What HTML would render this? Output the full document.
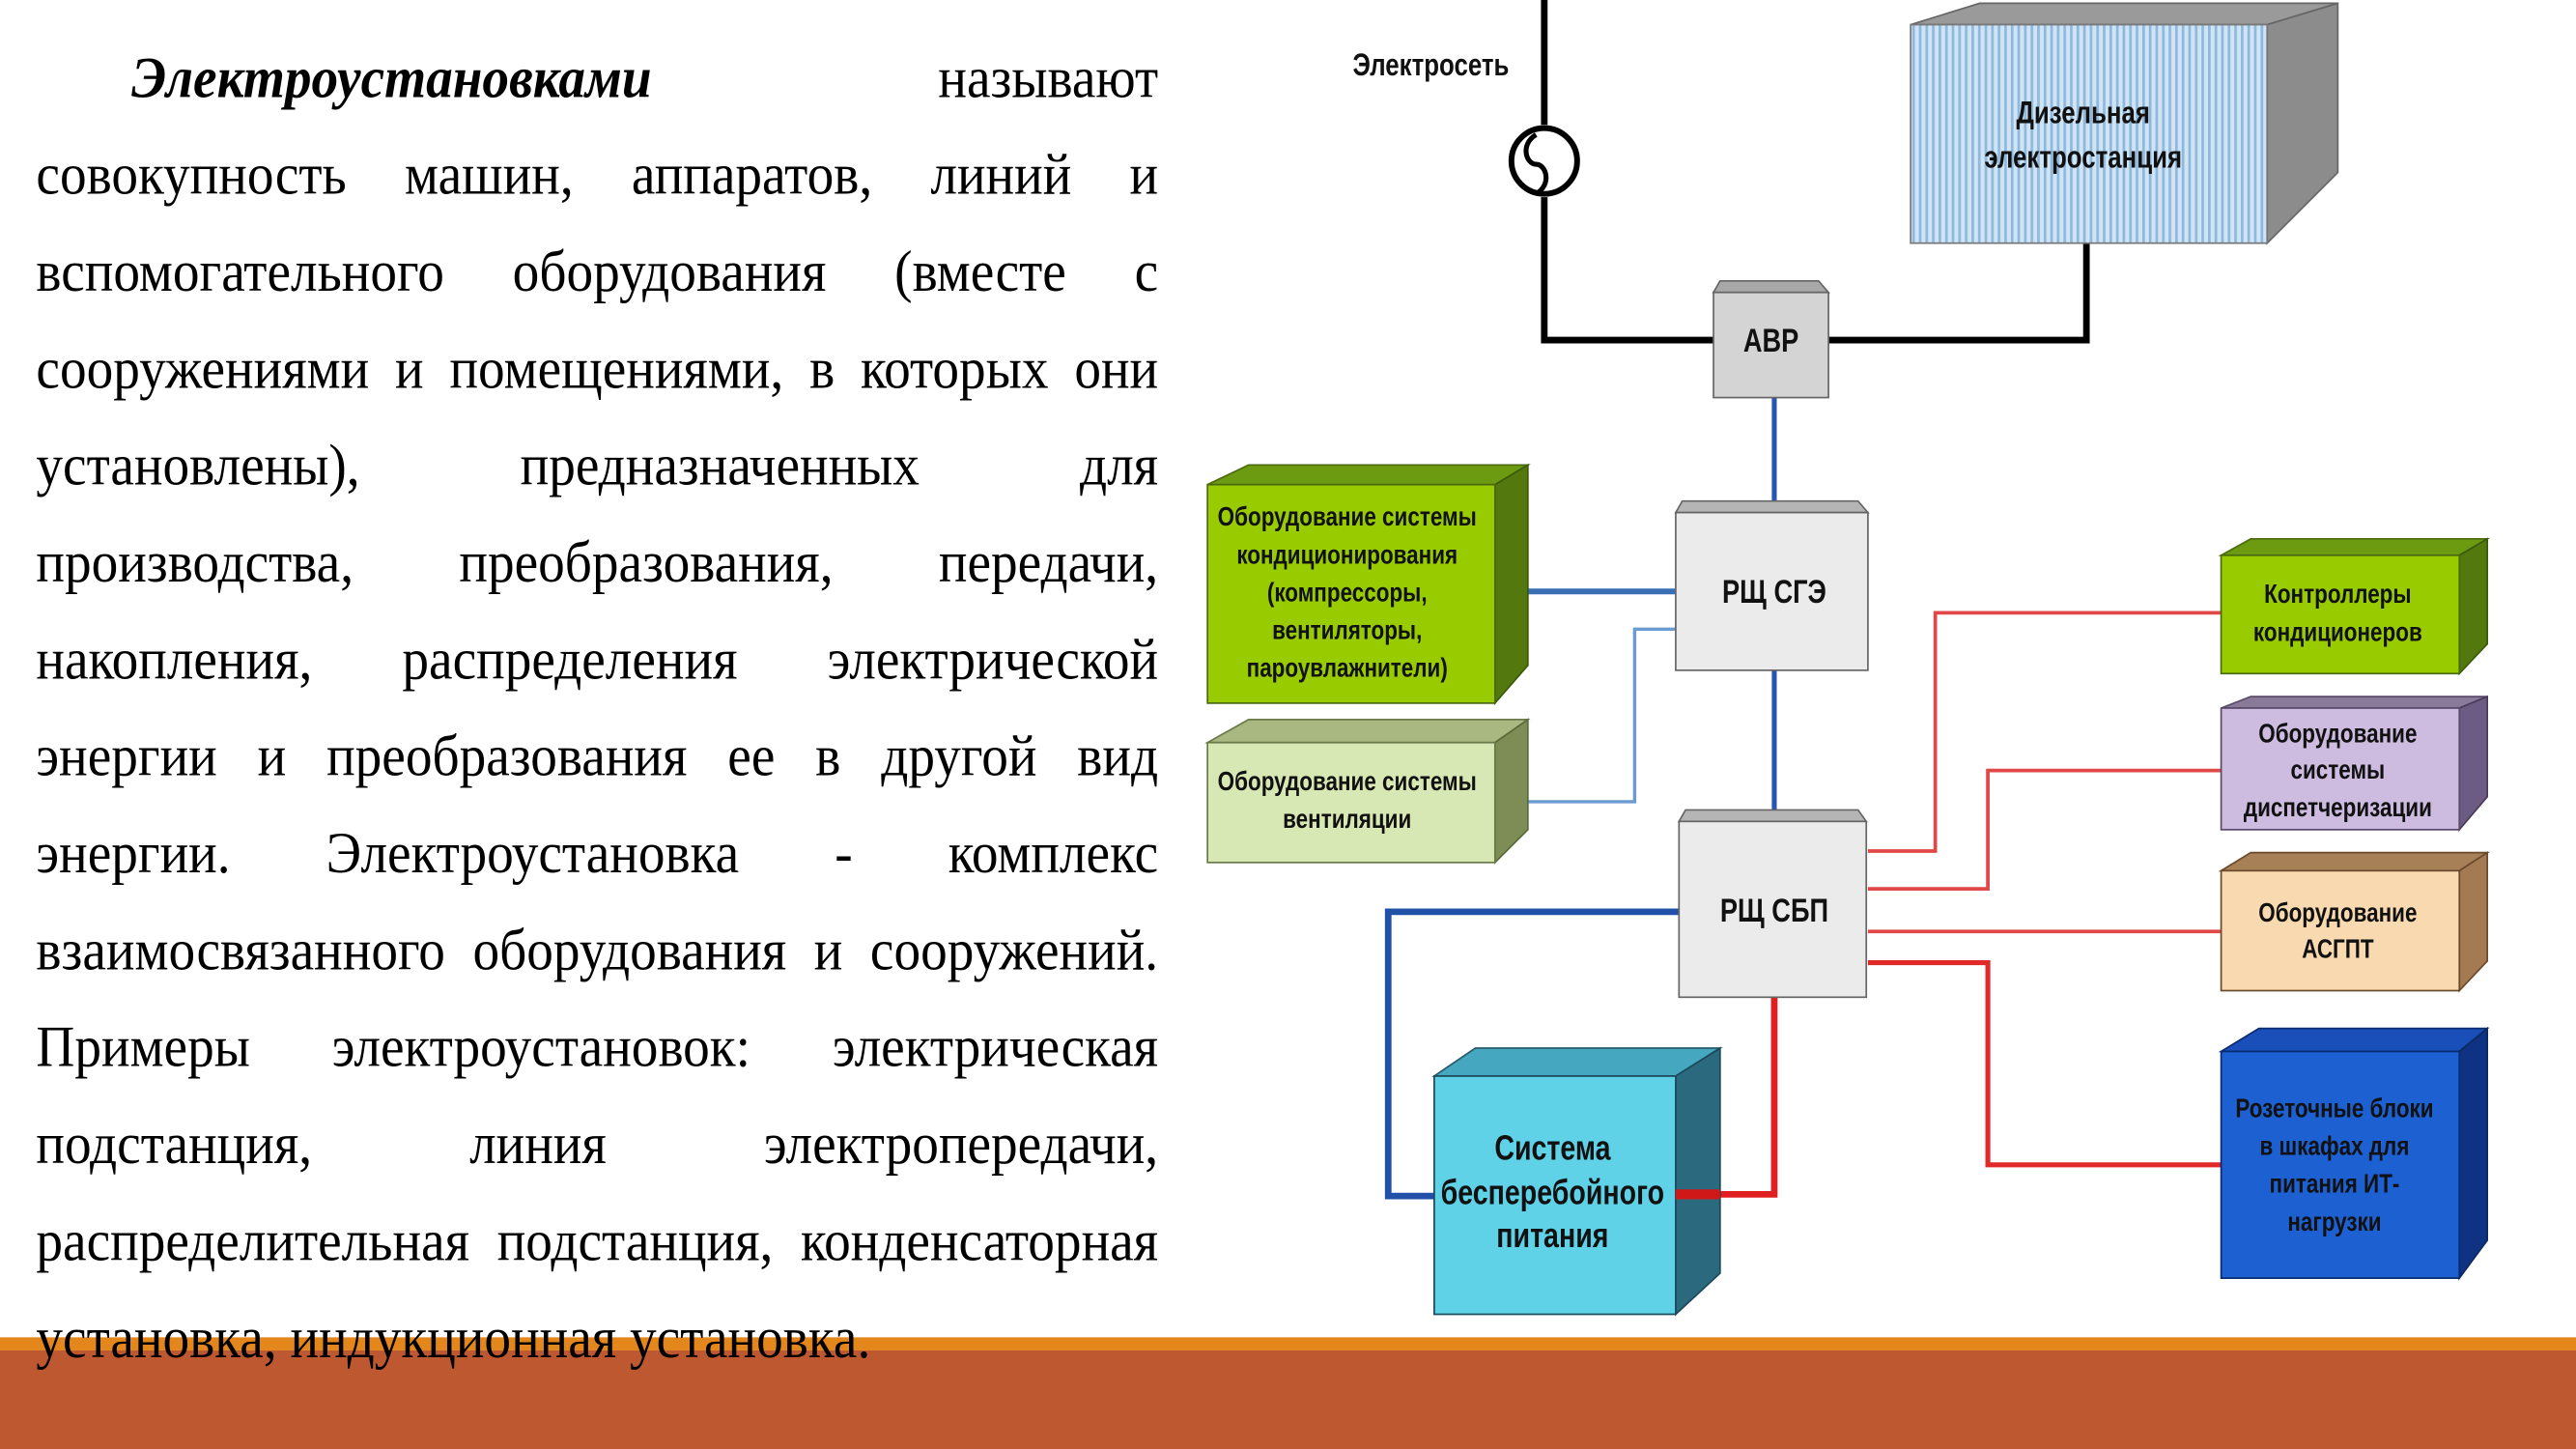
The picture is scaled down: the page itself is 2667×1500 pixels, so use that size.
<!DOCTYPE html>
<html><head><meta charset="utf-8">
<style>
html,body{margin:0;padding:0;background:#fff;overflow:hidden;width:2667px;height:1500px}
#w{position:absolute;left:0;top:0;width:1568px;height:882px;transform-origin:0 0;transform:scale(1.70089,1.70068)}
.ln{position:absolute;left:22px;width:683px;font-family:"Liberation Serif",serif;font-size:32.5px;line-height:36px;height:36px;text-align:justify;text-align-last:justify;white-space:nowrap;color:#000;transform:scaleY(1.1);transform-origin:0 50%}
.ln span{display:block}
svg text{font-family:"Liberation Sans",sans-serif;font-weight:bold;fill:#111;text-anchor:middle;transform-box:fill-box;transform-origin:center;transform:scaleX(.8)}
</style></head><body>
<div id="w">
<svg width="1568" height="882" viewBox="0 0 1568 882" style="position:absolute;left:0;top:0">
<defs>
<pattern id="st" width="4" height="10" patternUnits="userSpaceOnUse"><rect width="4" height="10" fill="#cfe4f5"/><rect width="1.6" height="10" fill="#8fb8dc"/></pattern>
</defs>
<rect x="0" y="814" width="1568" height="8" fill="#e3871c"/>
<rect x="0" y="822" width="1568" height="60" fill="#bd5830"/>
<g stroke="#000" stroke-width="4" fill="none">
<path d="M940 0V76"/><path d="M940 120V207H1045"/><path d="M1270 148V207H1113"/>
<circle cx="940" cy="98" r="20" stroke-width="3.5"/>
<path d="M935 82c-10 6-6 18 0 18s10 12 0 18" stroke-width="3"/>
</g>
<text x="871" y="46" font-size="19">Электросеть</text>
<polygon points="1163,15 1205,2 1423,2 1380,15" fill="#9a9a9a" stroke="#666"/>
<polygon points="1380,15 1423,2 1423,105 1380,148" fill="#8c8c8c" stroke="#666"/>
<rect x="1163" y="15" width="217" height="133" fill="url(#st)" stroke="#777"/>
<text x="1268" y="75" font-size="19">Дизельная</text>
<text x="1268" y="102" font-size="19">электростанция</text>
<g fill="none">
<path d="M1080 242V313" stroke="#2656b0" stroke-width="3"/>
<path d="M1080 408V502" stroke="#2656b0" stroke-width="3"/>
<path d="M910 360H1021" stroke="#3a6fb5" stroke-width="3.5"/>
<path d="M910 488H995V383H1021" stroke="#6c9bd2" stroke-width="2"/>
<path d="M1022 555H845V728H874" stroke="#2050a8" stroke-width="4"/>
<path d="M1080 607V727H1020" stroke="#e02020" stroke-width="4"/>
<g stroke="#e04848" stroke-width="2.2">
<path d="M1137 518H1178V373H1353"/><path d="M1137 541H1210V469H1353"/><path d="M1137 567H1353"/>
</g>
<path d="M1137 586H1210V709H1353" stroke="#e02a2a" stroke-width="3"/>
</g>
<polygon points="1043,178 1047,171 1107,171 1113,178" fill="#a8a8a8" stroke="#666"/>
<rect x="1043" y="178" width="70" height="64" fill="#d4d4d4" stroke="#666"/>
<text x="1078" y="214" font-size="20">АВР</text>
<polygon points="1020,312 1024,305 1131,305 1137,312" fill="#b5b5b5" stroke="#666"/>
<rect x="1020" y="312" width="117" height="96" fill="#ebebeb" stroke="#666"/>
<text x="1080" y="367" font-size="20">РЩ СГЭ</text>
<polygon points="1022,500 1026,493 1131,493 1136,500" fill="#b5b5b5" stroke="#666"/>
<rect x="1022" y="500" width="114" height="107" fill="#ebebeb" stroke="#666"/>
<text x="1080" y="561" font-size="20">РЩ СБП</text>
<polygon points="735,295 760,283 930,283 910,295" fill="#6c9a10" stroke="#4a6a10"/>
<polygon points="910,295 930,283 930,405 910,428" fill="#52780e" stroke="#3a5a0a"/>
<rect x="735" y="295" width="175" height="133" fill="#99cc00" stroke="#4a6a10"/>
<g font-size="16.5"><text x="820" y="320">Оборудование системы</text><text x="820" y="343">кондиционирования</text><text x="820" y="366">(компрессоры,</text><text x="820" y="389">вентиляторы,</text><text x="820" y="412">пароувлажнители)</text></g>
<polygon points="735,452 760,438 930,438 910,452" fill="#a9b880" stroke="#6a7a4a"/>
<polygon points="910,452 930,438 930,505 910,525" fill="#7d8d55" stroke="#5a6a3a"/>
<rect x="735" y="452" width="175" height="73" fill="#d8e8b4" stroke="#6a7a4a"/>
<g font-size="16.5"><text x="820" y="481">Оборудование системы</text><text x="820" y="504">вентиляции</text></g>
<polygon points="873,655 898,638 1047,638 1020,655" fill="#46a8c0" stroke="#2a5a6a"/>
<polygon points="1020,655 1047,638 1047,775 1020,800" fill="#2b6a7e" stroke="#1a4a5a"/>
<rect x="873" y="655" width="147" height="145" fill="#5fd2e8" stroke="#1a4a5a"/>
<g font-size="21"><text x="945" y="706">Система</text><text x="945" y="733">бесперебойного</text><text x="945" y="759">питания</text></g>
<path d="M1020 727H1047" stroke="#d01818" stroke-width="6"/>
<polygon points="1352,338 1370,328 1514,328 1497,338" fill="#6c9a10" stroke="#4a6a10"/>
<polygon points="1497,338 1514,328 1514,392 1497,410" fill="#52780e" stroke="#3a5a0a"/>
<rect x="1352" y="338" width="145" height="72" fill="#99cc00" stroke="#4a6a10"/>
<g font-size="16.5"><text x="1423" y="367">Контроллеры</text><text x="1423" y="390">кондиционеров</text></g>
<polygon points="1352,431 1370,424 1514,424 1497,431" fill="#8a7a9a" stroke="#5a4a6a"/>
<polygon points="1497,431 1514,424 1514,485 1497,505" fill="#6c5c84" stroke="#4a3a5a"/>
<rect x="1352" y="431" width="145" height="74" fill="#cdbbe0" stroke="#5a4a6a"/>
<g font-size="16.5"><text x="1423" y="452">Оборудование</text><text x="1423" y="474">системы</text><text x="1423" y="497">диспетчеризации</text></g>
<polygon points="1352,530 1370,519 1514,519 1497,530" fill="#a88058" stroke="#6a4a2a"/>
<polygon points="1497,530 1514,519 1514,585 1497,603" fill="#a47a52" stroke="#6a4a2a"/>
<rect x="1352" y="530" width="145" height="73" fill="#f8d9b0" stroke="#6a4a2a"/>
<g font-size="16.5"><text x="1423" y="561">Оборудование</text><text x="1423" y="583">АСГПТ</text></g>
<polygon points="1352,640 1375,626 1514,626 1497,640" fill="#1a4eb8" stroke="#0a2a70"/>
<polygon points="1497,640 1514,626 1514,755 1497,778" fill="#0f3282" stroke="#0a2a60"/>
<rect x="1352" y="640" width="145" height="138" fill="#1c60d2" stroke="#0a2a70"/>
<g font-size="16.5"><text x="1421" y="680">Розеточные блоки</text><text x="1421" y="703">в шкафах для</text><text x="1421" y="726">питания ИТ-</text><text x="1421" y="749">нагрузки</text></g>
</svg>

<div class="ln" style="top:30px"><span><b><i style="margin-left:58px">Электроустановками</i></b> называют</span></div>
<div class="ln" style="top:89px"><span>совокупность машин, аппаратов, линий и</span></div>
<div class="ln" style="top:148px"><span>вспомогательного оборудования (вместе с</span></div>
<div class="ln" style="top:207px"><span>сооружениями и помещениями, в которых они</span></div>
<div class="ln" style="top:266px"><span>установлены), предназначенных для</span></div>
<div class="ln" style="top:325px"><span>производства, преобразования, передачи,</span></div>
<div class="ln" style="top:384px"><span>накопления, распределения электрической</span></div>
<div class="ln" style="top:443px"><span>энергии и преобразования ее в другой вид</span></div>
<div class="ln" style="top:502px"><span>энергии. Электроустановка - комплекс</span></div>
<div class="ln" style="top:561px"><span>взаимосвязанного оборудования и сооружений.</span></div>
<div class="ln" style="top:620px"><span>Примеры электроустановок: электрическая</span></div>
<div class="ln" style="top:679px"><span>подстанция, линия электропередачи,</span></div>
<div class="ln" style="top:738px"><span>распределительная подстанция, конденсаторная</span></div>
<div class="ln" style="top:797px;text-align:left;text-align-last:left"><span>установка, индукционная установка.</span></div>
</div>
</body></html>
